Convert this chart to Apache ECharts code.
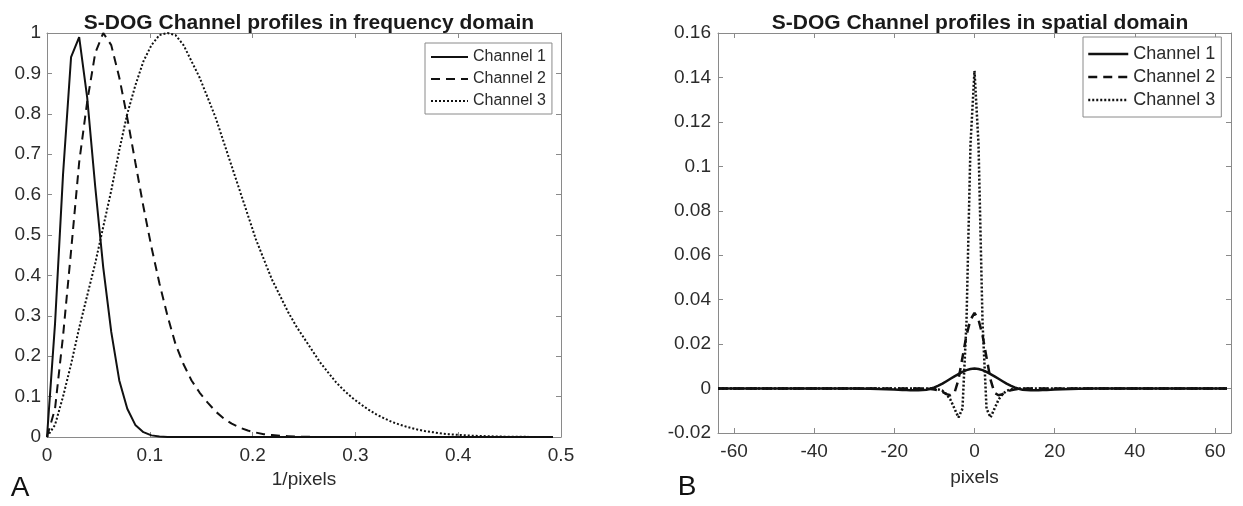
<!DOCTYPE html>
<html>
<head>
<meta charset="utf-8">
<script src="https://cdn.jsdelivr.net/npm/echarts@6/dist/echarts.min.js"></script>
<style>
html, body { margin: 0; padding: 0; background: #fff; }
#mainChart { width: 1243px; height: 506px; }
</style>
</head>
<body>
<div id="mainChart"></div>
<script>
/**
 * S-DOG 通道曲线（频域 / 空间域）
 */

// 频域采样点 (1/pixels)
var freqX = [0, 0.0078, 0.0156, 0.0234, 0.0313, 0.0391, 0.0469, 0.0547, 0.0625, 0.0703,
    0.0781, 0.0859, 0.0938, 0.1016, 0.1094, 0.1172, 0.125, 0.1328, 0.1406, 0.1484,
    0.1563, 0.1641, 0.1719, 0.1797, 0.1875, 0.1953, 0.2031, 0.2109, 0.2188, 0.2266,
    0.2344, 0.2422, 0.25, 0.2578, 0.2656, 0.2734, 0.2813, 0.2891, 0.2969, 0.3047,
    0.3125, 0.3203, 0.3281, 0.3359, 0.3438, 0.3516, 0.3594, 0.3672, 0.375, 0.3828,
    0.3906, 0.3984, 0.4063, 0.4141, 0.4219, 0.4297, 0.4375, 0.4453, 0.4531, 0.4609,
    0.4688, 0.4766, 0.4844, 0.4922];
var ch1Freq = [0, 0.28, 0.65, 0.94, 0.99, 0.84, 0.62, 0.42, 0.26, 0.14,
    0.07, 0.03, 0.012, 0.004, 0.001, 0, 0, 0, 0, 0,
    0, 0, 0, 0, 0, 0, 0, 0, 0, 0,
    0, 0, 0, 0, 0, 0, 0, 0, 0, 0,
    0, 0, 0, 0, 0, 0, 0, 0, 0, 0,
    0, 0, 0, 0, 0, 0, 0, 0, 0, 0,
    0, 0, 0, 0];
var ch2Freq = [0, 0.07, 0.25, 0.46, 0.68, 0.83, 0.95, 1.0, 0.97, 0.89,
    0.79, 0.68, 0.57, 0.47, 0.38, 0.30, 0.23, 0.18, 0.14, 0.11,
    0.085, 0.063, 0.046, 0.033, 0.023, 0.016, 0.011, 0.007, 0.005, 0.003,
    0.002, 0.001, 0.0006, 0.0003, 0.0002, 0.0001, 0, 0, 0, 0,
    0, 0, 0, 0, 0, 0, 0, 0, 0, 0,
    0, 0, 0, 0, 0, 0, 0, 0, 0, 0,
    0, 0, 0, 0];
var ch3Freq = [0, 0.03, 0.10, 0.18, 0.27, 0.35, 0.43, 0.52, 0.61, 0.71,
    0.80, 0.87, 0.93, 0.97, 0.995, 1.0, 0.995, 0.97, 0.93, 0.89,
    0.84, 0.79, 0.73, 0.67, 0.61, 0.55, 0.49, 0.44, 0.39, 0.35,
    0.31, 0.275, 0.245, 0.215, 0.185, 0.16, 0.135, 0.115, 0.097, 0.082,
    0.068, 0.056, 0.046, 0.037, 0.030, 0.024, 0.019, 0.015, 0.012, 0.009,
    0.007, 0.0055, 0.0042, 0.0032, 0.0024, 0.0018, 0.0013, 0.0009, 0.0007, 0.0005,
    0.0003, 0.0002, 0.0001, 0.0001];

// 空间域采样点 (pixels)
var spaceX = [-64, -30, -26, -24, -22,
    -20, -19, -18, -17, -16, -15, -14,
    -13, -12, -11, -10, -9, -8, -7, -6, -5, -4, -3, -2, -1,
    0,
    1, 2, 3, 4, 5, 6, 7, 8, 9, 10, 11, 12, 13,
    14, 15, 16, 17, 18, 19, 20,
    22, 24, 26, 30, 63];
var ch1Space = [0, 0, -0.0001, -0.0002, -0.0003,
    -0.0004, -0.0005, -0.0006, -0.0007, -0.0008, -0.0008, -0.0008,
    -0.0007, -0.0005, -0.0001, 0.0005, 0.0013, 0.0022, 0.0033, 0.0044, 0.0055, 0.0065, 0.0075, 0.0083, 0.0088,
    0.009,
    0.0088, 0.0083, 0.0075, 0.0065, 0.0055, 0.0044, 0.0033, 0.0022, 0.0013, 0.0005, -0.0001, -0.0005, -0.0007,
    -0.0008, -0.0008, -0.0008, -0.0007, -0.0006, -0.0005, -0.0004,
    -0.0003, -0.0002, -0.0001, 0, 0];
var ch2Space = [0, 0, 0, 0, 0,
    0, 0, 0, 0, 0, 0, 0,
    0, -0.0001, -0.0002, -0.0004, -0.0008, -0.0015, -0.0025, -0.003, -0.002, 0.004, 0.014, 0.024, 0.031,
    0.034,
    0.031, 0.024, 0.014, 0.004, -0.002, -0.003, -0.0025, -0.0015, -0.0008, -0.0004, -0.0002, -0.0001, 0,
    0, 0, 0, 0, 0, 0, 0,
    0, 0, 0, 0, 0];
var ch3Space = [0, 0, 0, 0, 0,
    0, 0, 0, 0, 0, 0, 0,
    0, 0, 0, -0.0001, -0.0004, -0.001, -0.0025, -0.005, -0.009, -0.013, -0.009, 0.03, 0.11,
    0.143,
    0.11, 0.03, -0.009, -0.013, -0.009, -0.005, -0.0025, -0.001, -0.0004, -0.0001, 0, 0, 0,
    0, 0, 0, 0, 0, 0, 0,
    0, 0, 0, 0, 0];

var channelNames = ['Channel 1', 'Channel 2', 'Channel 3'];
var spaceTicks = [-60, -40, -20, 0, 20, 40, 60];

var font = '"Liberation Sans", Arial, Helvetica, sans-serif';
var axisGray = '#8a8a8a';
var textColor = '#2b2b2b';
var lineColor = '#111';
var lineTypes = ['solid', [9, 6], [2, 2]];

function pairs(xs, ys) {
    return xs.map(function (x, i) {
        return [x, ys[i]];
    });
}

// 带框坐标轴（MATLAB 风格，四边刻度朝内）
function boxAxis(gridIndex, position, min, max, interval, showLabel, extra) {
    var axis = {
        gridIndex: gridIndex,
        type: 'value',
        position: position,
        min: min,
        max: max,
        axisLine: { show: true, onZero: false, lineStyle: { color: axisGray, width: 1 } },
        axisTick: { show: true, inside: true, length: 5, lineStyle: { color: axisGray } },
        axisLabel: { show: showLabel, fontSize: 19, color: textColor, fontFamily: font },
        splitLine: { show: false }
    };
    if (interval) axis.interval = interval;
    for (var k in extra) {
        if (typeof extra[k] === 'object' && axis[k]) {
            Object.assign(axis[k], extra[k]);
        } else {
            axis[k] = extra[k];
        }
    }
    return axis;
}

function makeSeries(xIndex, data, width) {
    return data.map(function (d, i) {
        return {
            name: channelNames[i],
            type: 'line',
            xAxisIndex: xIndex,
            yAxisIndex: xIndex,
            data: d,
            symbol: 'none',
            showSymbol: false,
            animation: false,
            lineStyle: { color: lineColor, width: width, type: lineTypes[i] },
            itemStyle: { color: lineColor },
            emphasis: { disabled: true }
        };
    });
}

var myChart = echarts.init(document.getElementById('mainChart'));

var option = {
    backgroundColor: '#fff',
    animation: false,
    title: [{
        text: 'S-DOG Channel profiles in frequency domain',
        left: 304,
        top: 8,
        textAlign: 'center',
        textStyle: { fontSize: 21, fontWeight: 'bold', color: '#1a1a1a', fontFamily: font }
    }, {
        text: 'S-DOG Channel profiles in spatial domain',
        left: 975,
        top: 8,
        textAlign: 'center',
        textStyle: { fontSize: 21, fontWeight: 'bold', color: '#1a1a1a', fontFamily: font }
    }],
    legend: [{
        orient: 'vertical',
        left: 425,
        top: 43,
        itemWidth: 37,
        itemHeight: 12,
        itemGap: 6,
        padding: [6, 6, 5, 5],
        borderColor: axisGray,
        borderWidth: 1,
        backgroundColor: '#fff',
        selectedMode: false,
        itemStyle: { opacity: 0 },
        textStyle: { fontSize: 16, color: textColor, fontFamily: font },
        data: channelNames
    }, {
        orient: 'vertical',
        left: 1083,
        top: 37,
        itemWidth: 40,
        itemHeight: 14,
        itemGap: 5,
        padding: [8, 6, 8, 4],
        borderColor: axisGray,
        borderWidth: 1,
        backgroundColor: '#fff',
        selectedMode: false,
        itemStyle: { opacity: 0 },
        lineStyle: { width: 2.5 },
        textStyle: { fontSize: 18, color: textColor, fontFamily: font },
        data: channelNames
    }],
    grid: [
        { left: 47, top: 33, width: 514, height: 404 },
        { left: 718, top: 33, width: 513, height: 400 }
    ],
    xAxis: [
        boxAxis(0, 'bottom', 0, 0.5, 0.1, true, {
            axisLabel: { margin: 9 },
            name: '1/pixels',
            nameLocation: 'middle',
            nameGap: 32,
            nameTextStyle: { fontSize: 19, color: textColor, fontFamily: font }
        }),
        boxAxis(0, 'top', 0, 0.5, 0.1, false, {}),
        boxAxis(1, 'bottom', -64, 64, null, true, {
            axisTick: { customValues: spaceTicks },
            axisLabel: { margin: 9, customValues: spaceTicks },
            name: 'pixels',
            nameLocation: 'middle',
            nameGap: 35,
            nameTextStyle: { fontSize: 19, color: textColor, fontFamily: font }
        }),
        boxAxis(1, 'top', -64, 64, null, false, {
            axisTick: { customValues: spaceTicks },
            axisLabel: { customValues: spaceTicks }
        })
    ],
    yAxis: [
        boxAxis(0, 'left', 0, 1, 0.1, true, { axisLabel: { margin: 6 } }),
        boxAxis(0, 'right', 0, 1, 0.1, false, {}),
        boxAxis(1, 'left', -0.02, 0.16, 0.02, true, { axisLabel: { margin: 7 } }),
        boxAxis(1, 'right', -0.02, 0.16, 0.02, false, {})
    ],
    graphic: [{
        type: 'text',
        style: { text: 'A', x: 20, y: 488, fill: '#111', font: '28px ' + font, align: 'center', verticalAlign: 'middle' }
    }, {
        type: 'text',
        style: { text: 'B', x: 687, y: 487, fill: '#111', font: '28px ' + font, align: 'center', verticalAlign: 'middle' }
    }],
    series: makeSeries(0, [pairs(freqX, ch1Freq), pairs(freqX, ch2Freq), pairs(freqX, ch3Freq)], 2)
        .concat(makeSeries(2, [pairs(spaceX, ch1Space), pairs(spaceX, ch2Space), pairs(spaceX, ch3Space)], 2.5))
};

myChart.setOption(option);
</script>
</body>
</html>
